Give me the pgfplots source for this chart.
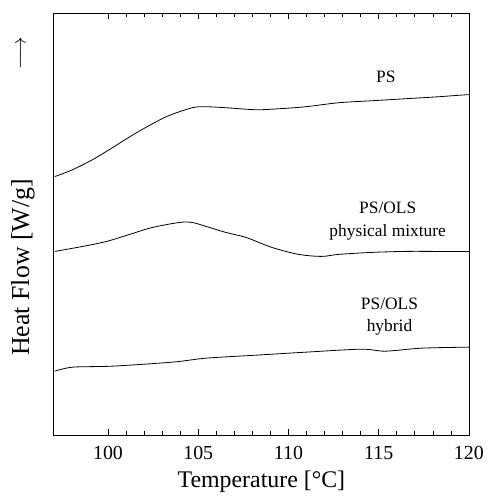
\documentclass[border=0pt]{standalone}
\usepackage{pgfplots}
\pgfplotsset{compat=1.18}
\usepackage{fontspec}
\setmainfont{Liberation Serif}
\usetikzlibrary{calc}
\pgfplotstableread{
T y
97.05 259
98.05 266
99.15 276
100.25 288
101.58 303
103.23 319
104.67 328
105.44 329
106.54 328
108.2 326
109.47 327
110.95 329
112.77 333
114.6 335
116.47 337
118.29 339
119.83 341
120 341
}\ps
\pgfplotstableread{
T y
97.05 184
98.6 189
99.92 194
101.19 201
102.46 208
103.95 213
104.67 213
105.44 209
106.54 203
107.65 198
109.08 188
110.57 181
111.84 179
112.77 181
114.6 183
116.47 184
118.29 184
119.83 184
120 184
}\mix
\pgfplotstableread{
T y
97.05 64
98.05 68
100.25 69
103.56 73
105.44 77
108.2 80
110.95 83
114.04 86
115.37 84
117.35 87
119.83 88
120 88
}\hyb
\begin{document}
\begin{tikzpicture}
\begin{axis}[
  scale only axis,
  width=416bp, height=423bp,
  xmin=97, xmax=120, ymin=0, ymax=423,
  xtick={100,105,110,115,120},
  minor x tick num=4,
  ytick=\empty,
  tick align=inside,
  xtick pos=both,
  major tick length=6bp,
  minor tick length=4bp,
  axis line style={line width=0.8pt},
  every tick/.style={line width=0.6pt, black},
  tick label style={font=\fontsize{20}{22}\selectfont},
  xticklabel style={anchor=center, yshift=-18bp},
  /pgf/number format/assume math mode=true,
  xlabel={Temperature [\textdegree C]},
  xlabel style={font=\fontsize{24}{27}\selectfont, at={(rel axis cs:0.5,0)}, anchor=center, yshift=-47bp},
  ylabel={Heat Flow [W/g]},
  ylabel style={font=\fontsize{26}{29}\selectfont, at={(rel axis cs:0,0.397)}, anchor=center, yshift=31bp},
  clip=false,
]
\addplot[black, line width=0.8pt, smooth] table[x=T,y=y] {\ps};
\addplot[black, line width=0.8pt, smooth] table[x=T,y=y] {\mix};
\addplot[black, line width=0.8pt, smooth] table[x=T,y=y] {\hyb};
\node[font=\fontsize{17.5}{19}\selectfont] at (axis cs:115.4,359) {PS};
\node[font=\fontsize{17.5}{19}\selectfont] at (axis cs:115.5,228) {PS/OLS};
\node[font=\fontsize{17.5}{19}\selectfont] at (axis cs:115.5,203) {physical mixture};
\node[font=\fontsize{17.5}{19}\selectfont] at (axis cs:115.6,131) {PS/OLS};
\node[font=\fontsize{17.5}{19}\selectfont] at (axis cs:115.6,108) {hybrid};
\node[rotate=90, font=\fontsize{22}{24}\selectfont, yshift=32bp] at (rel axis cs:0,0.905) {$\longrightarrow$};
\end{axis}
\path[use as bounding box] ($(current axis.south west)+(-54bp,-60bp)$) rectangle ($(current axis.north east)+(8bp,13bp)$);
\end{tikzpicture}
\end{document}
